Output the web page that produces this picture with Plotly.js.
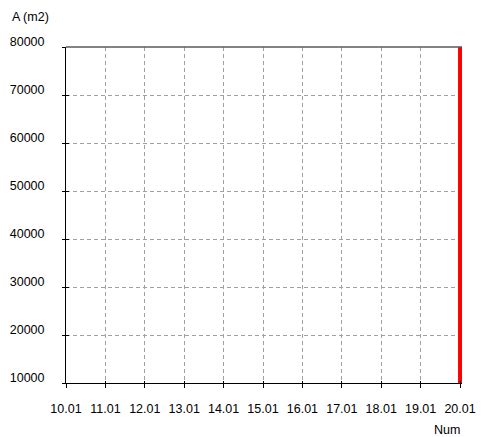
<!DOCTYPE html>
<html>
<head>
<meta charset="utf-8">
<script src="https://cdn.plot.ly/plotly-3.0.1.min.js"></script>
<style>
  html, body { margin: 0; padding: 0; background: #ffffff; }
  #chart { width: 482px; height: 437px; }
</style>
</head>
<body>
<div id="chart"></div>
<script>
// Area (m2) against Num: a single vertical segment at the right end
const numValues = [20.01, 20.01];
const areaValues = [10000, 80000];

const xTickValues = [10.01, 11.01, 12.01, 13.01, 14.01, 15.01, 16.01, 17.01, 18.01, 19.01, 20.01];
const xTickLabels = ['10.01', '11.01', '12.01', '13.01', '14.01', '15.01', '16.01', '17.01', '18.01', '19.01', '20.01'];
const yTickValues = [10000, 20000, 30000, 40000, 50000, 60000, 70000, 80000];
const yTickLabels = ['10000', '20000', '30000', '40000', '50000', '60000', '70000', '80000'];

const font = { family: 'Liberation Sans, Arial, sans-serif', size: 12.5, color: '#000000' };
const xRange = [10.01, 20.06];
const yRange = [10000, 80000];

const trace = {
  type: 'scatter',
  mode: 'lines',
  x: numValues,
  y: areaValues,
  line: { color: '#ff0000', width: 4 },
  hoverinfo: 'skip',
  showlegend: false
};

// empty trace that carries the inner half of the crossing tick marks
const tickCarrier = {
  type: 'scatter', mode: 'none', x: [], y: [],
  xaxis: 'x2', yaxis: 'y2', hoverinfo: 'skip', showlegend: false
};

const layout = {
  width: 482,
  height: 437,
  margin: { l: 66, r: 20, t: 47, b: 54 },
  paper_bgcolor: '#ffffff',
  plot_bgcolor: '#ffffff',
  font: font,
  showlegend: false,
  xaxis: {
    range: xRange,
    tickmode: 'array',
    tickvals: xTickValues,
    ticktext: xTickLabels,
    showgrid: true,
    gridcolor: '#a0a0a0',
    griddash: '4px,3px',
    gridwidth: 1,
    showline: true,
    linecolor: '#000000',
    linewidth: 1,
    ticks: 'outside',
    ticklen: 4,
    tickcolor: '#000000',
    tickfont: font,
    ticklabelstandoff: 10,
    zeroline: false,
    fixedrange: true
  },
  yaxis: {
    range: yRange,
    tickmode: 'array',
    tickvals: yTickValues,
    ticktext: yTickLabels,
    showgrid: true,
    gridcolor: '#a0a0a0',
    griddash: '4px,3px',
    gridwidth: 1,
    showline: true,
    linecolor: '#000000',
    linewidth: 1,
    ticks: 'outside',
    ticklen: 3,
    tickcolor: '#000000',
    tickfont: font,
    ticklabelstandoff: 15,
    ticklabelshift: -5,
    zeroline: false,
    fixedrange: true
  },
  xaxis2: {
    overlaying: 'x', anchor: 'y2', range: xRange,
    tickmode: 'array', tickvals: xTickValues,
    showticklabels: false, showgrid: false, zeroline: false, showline: false,
    ticks: 'inside', ticklen: 2, tickcolor: '#000000', fixedrange: true
  },
  yaxis2: {
    overlaying: 'y', anchor: 'x2', range: yRange,
    tickmode: 'array', tickvals: yTickValues,
    showticklabels: false, showgrid: false, zeroline: false, showline: false,
    ticks: 'inside', ticklen: 3, tickcolor: '#000000', fixedrange: true
  },
  shapes: [
    {
      type: 'line', xref: 'paper', yref: 'paper',
      x0: 0, x1: 1, y0: 1, y1: 1,
      line: { color: '#5a5a5a', width: 1.5 }
    }
  ],
  annotations: [
    {
      text: 'A (m2)', xref: 'paper', yref: 'paper',
      x: -0.142, y: 1.09, xanchor: 'left', yanchor: 'middle',
      showarrow: false, font: font
    },
    {
      text: 'Num', xref: 'paper', yref: 'paper',
      x: 1.0, y: -0.14, xanchor: 'right', yanchor: 'middle',
      showarrow: false, font: font
    }
  ]
};

Plotly.newPlot('chart', [trace, tickCarrier], layout, { displayModeBar: false, staticPlot: true });
</script>
</body>
</html>
